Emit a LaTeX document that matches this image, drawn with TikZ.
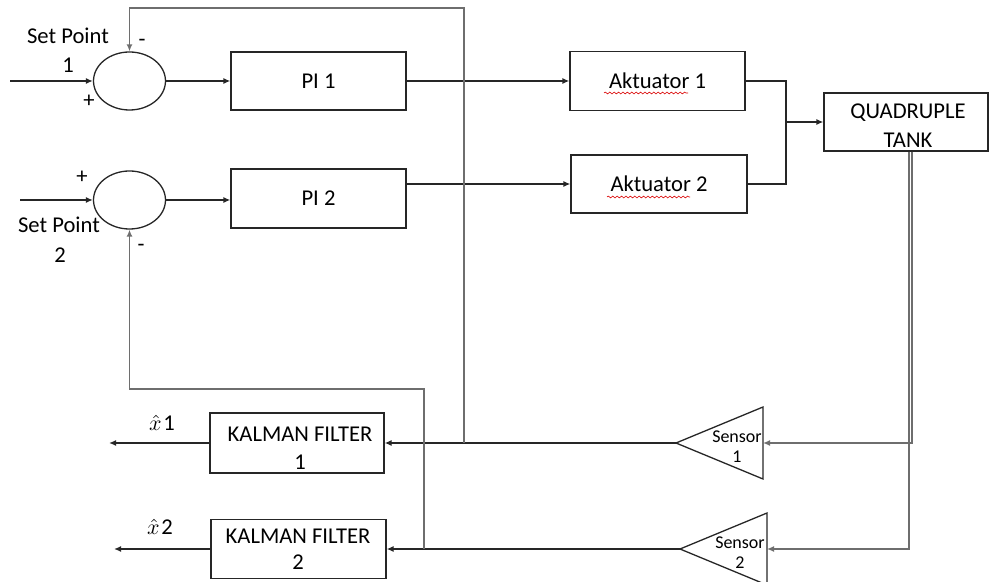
\documentclass[tikz,border=0pt]{standalone}
\usepackage{fontspec}
\setmainfont{Carlito}
\usetikzlibrary{arrows.meta,shapes.geometric,decorations.pathmorphing}
\definecolor{lncol}{RGB}{38,38,38}
\definecolor{fbcol}{RGB}{110,110,110}
\begin{document}
\begin{tikzpicture}[x=0.5pt,y=-0.5pt,
  every node/.style={font=\fontsize{11.3}{14}\selectfont},
  box/.style={draw=lncol, line width=0.65pt, inner sep=0pt},
  sumn/.style={draw=lncol, line width=0.65pt, ellipse, inner sep=0pt, minimum width=36pt, minimum height=29pt},
  ln/.style={draw=lncol, line width=0.65pt},
  arr/.style={ln, -{Latex[length=3.5pt,width=3pt]}},
  gln/.style={draw=fbcol, line width=0.85pt},
  garr/.style={gln, -{Latex[length=3.5pt,width=3pt]}},
  lbl/.style={inner sep=0pt},
  slbl/.style={inner sep=0pt, font=\fontsize{9}{10}\selectfont},
  squig/.style={draw=red!85!black, line width=0.3pt, decorate, decoration={snake, amplitude=0.45pt, segment length=2.2pt}}
]
\useasboundingbox (0,0) rectangle (990,582);

% blocks
\node[sumn] (s1) at (129.5,81) {};
\node[sumn] (s2) at (129.5,200) {};
\node[box, minimum width=87.5pt, minimum height=29pt] (pi1) at (318.5,81) {PI 1};
\node[box, minimum width=87.5pt, minimum height=29.5pt] (pi2) at (318.5,198.5) {PI 2};
\node[box, minimum width=87.5pt, minimum height=29.5pt] (akt1) at (657.5,81) {Aktuator 1};
\node[box, minimum width=88pt, minimum height=29pt] (akt2) at (659,184) {Aktuator 2};
\node[box, minimum width=82pt, minimum height=29pt] (qt) at (906,122) {};
\node[box, minimum width=87pt, minimum height=30pt] (kf1) at (297,443) {};
\node[box, minimum width=87.5pt, minimum height=29.5pt] (kf2) at (298.5,549) {};

% sensors (triangles)
\draw[ln] (763,407) -- (763,479) -- (676,443) -- cycle;
\draw[ln] (767,513) -- (767,585) -- (680,549) -- cycle;
\coordinate (sen1in) at (763,443);
\coordinate (sen1out) at (676,443);
\coordinate (sen2in) at (767,549);
\coordinate (sen2out) at (680,549);

% free ends and junctions
\coordinate (in1) at (10,81);
\coordinate (in2) at (20,200);
\coordinate (out1) at (109,443);
\coordinate (out2) at (114,549);
\coordinate (jn) at (786,122);
\coordinate (f1) at (464,443);
\coordinate (f2) at (424,549);

% labels
\node[lbl] at (68,36) {Set Point};
\node[lbl] at (68,65) {1};
\node[lbl] at (59,225) {Set Point};
\node[lbl] at (60,255) {2};
\node[lbl] at (89,101) {+};
\node[lbl] at (142,43) {-};
\node[lbl] at (82,177) {+};
\node[lbl] at (141,248) {-};
\node[lbl] at (908,113) {QUADRUPLE};
\node[lbl] at (908,140) {TANK};
\node[lbl] at (300,434) {KALMAN FILTER};
\node[lbl] at (300,462) {1};
\node[lbl] at (298,536) {KALMAN FILTER};
\node[lbl] at (298,562) {2};
\node[slbl] at (737,437) {Sensor};
\node[slbl] at (737,457) {1};
\node[slbl] at (740,543) {Sensor};
\node[slbl] at (740,563) {2};
\node[lbl] at (162,423) {$\hat{x}$\kern0.8pt1};
\node[lbl] at (160,527) {$\hat{x}$\kern0.8pt2};

% spell-check squiggles
\draw[squig] (604,93) -- (688,93);
\draw[squig] (607,197) -- (690,197);

% forward connectors
\draw[arr] (in1) -- (s1.west);
\draw[arr] (s1.east) -- (s1.east -| pi1.west);
\draw[arr] (pi1.east) -- (pi1.east -| akt1.west);
\draw[arr] (in2) -- (s2.west);
\draw[arr] (s2.east) -- (s2.east -| pi2.west);
\draw[arr] (pi2.east |- akt2.west) -- (akt2.west);
\draw[ln] (akt1.east) -| (jn) |- (akt2.east);
\draw[arr] (jn) -- (qt.west);

% measurement paths
\draw[garr] ([xshift=3pt]qt.south) |- (sen1in);
\draw[garr] ([xshift=1.5pt]qt.south) |- (sen2in);
\draw[arr] (sen1out) -- (kf1.east);
\draw[arr] (sen2out) -- (kf2.east);
\draw[arr] (kf1.west) -- (out1);
\draw[arr] (kf2.west) -- (out2);

% feedback
\draw[garr] (f1) |- (s1.north |- 0,8) -- (s1.north);
\draw[garr] (f2) |- (s2.south |- 0,389) -- (s2.south);
\end{tikzpicture}
\end{document}
